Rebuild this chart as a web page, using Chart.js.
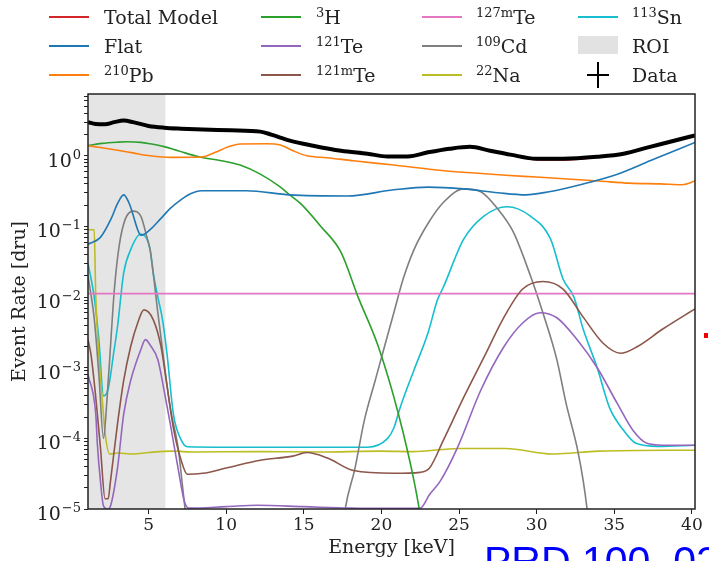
<!DOCTYPE html>
<html>
<head>
<meta charset="utf-8">
<script src="https://cdn.jsdelivr.net/npm/chart.js@4.4.1/dist/chart.umd.min.js"></script>
<style>
  html, body { margin: 0; padding: 0; background: #fff; }
  body { width: 709px; height: 561px; overflow: hidden; position: relative; }
  #c { position: absolute; left: 0; top: 0; }
  .lg { position: absolute; font-family: "DejaVu Serif", serif; font-size: 19px; color: #222; line-height: 22px; white-space: nowrap; }
  .lg sup { font-size: 13px; vertical-align: 7px; line-height: 0; }
  .ln { position: absolute; height: 2px; width: 40px; }
  #cite { position: absolute; left: 484px; top: 538px; font-family: "Liberation Sans", Arial, sans-serif; font-size: 41px; color: #0000ff; white-space: nowrap; line-height: 46px; }
</style>
</head>
<body>
<canvas id="c" width="709" height="561"></canvas>
<div id="legend"></div>
<div id="cite">PRD 100, 022002 (2019)</div>
<div style="position:absolute;left:704px;top:333px;width:4px;height:5px;background:#e00;"></div>
<script>
// ---- axis ticks ----
const energyTicks = [5, 10, 15, 20, 25, 30, 35, 40];
const decadeTicks = [1e-5, 1e-4, 1e-3, 1e-2, 1e-1, 1];
const decadeExponents = ['\u22125', '\u22124', '\u22123', '\u22122', '\u22121', '0'];

// ---- series values: [energy keV, rate dru] ----
const totalModel = [[1.1,3.0],[1.6,2.8],[2.2,2.8],[2.8,3.0],[3.4,3.15],[4,3.0],[5,2.65],[6,2.5],[7.1,2.42],[8.5,2.35],[10.3,2.3],[12.2,2.2],[12.9,2.0],[14.1,1.64],[15.6,1.39],[17.4,1.18],[19.1,1.07],[20.4,0.97],[21.7,0.97],[23,1.12],[24.4,1.26],[25.7,1.34],[27,1.18],[28.3,1.03],[30,0.89],[31.7,0.88],[33.9,0.96],[35.6,1.07],[37.3,1.34],[38.6,1.58],[40.2,1.95]];
const dataPts    = [[1.1,3.0],[1.6,2.82],[2.2,2.8],[2.8,3.0],[3.4,3.15],[4,3.0],[5,2.65],[6,2.5],[7.1,2.42],[8.5,2.35],[10.3,2.3],[12.2,2.2],[12.9,2.0],[14.1,1.64],[15.6,1.39],[17.4,1.18],[19.1,1.07],[20.4,0.98],[21.7,0.98],[23,1.12],[24.4,1.26],[25.7,1.34],[27,1.18],[28.3,1.04],[30,0.91],[31.7,0.91],[33.9,0.97],[35.6,1.07],[37.3,1.34],[38.6,1.58],[40.2,1.95]];
const flat   = [[1.1,0.056],[1.9,0.07],[2.6,0.13],[3.0,0.21],[3.4,0.28],[3.8,0.2],[4.3,0.09],[4.5,0.075],[5.1,0.09],[5.8,0.13],[6.4,0.18],[7.1,0.24],[7.7,0.29],[8.4,0.32],[11.3,0.32],[14.1,0.28],[17.8,0.27],[20.8,0.33],[23,0.36],[25.3,0.34],[27.5,0.3],[29.3,0.28],[30.8,0.31],[33,0.4],[35.2,0.55],[37.3,0.85],[40.2,1.55]];
const pb210  = [[1.1,1.39],[2,1.3],[3,1.2],[4,1.1],[5.1,1.0],[6.5,0.95],[8.4,0.96],[9.3,1.12],[10.1,1.33],[10.9,1.47],[12.6,1.48],[13.5,1.42],[14.3,1.18],[15.2,1.0],[16.5,0.94],[18.2,0.85],[20.8,0.74],[23.9,0.62],[26,0.57],[28,0.53],[30,0.5],[32,0.47],[34,0.44],[36,0.41],[38,0.4],[39.4,0.39],[40.2,0.44]];
const h3     = [[1.1,1.4],[2,1.5],[3,1.56],[3.6,1.58],[4.5,1.55],[5.1,1.48],[6,1.35],[6.9,1.18],[8.3,0.96],[9.6,0.86],[10.9,0.74],[12.2,0.55],[13.5,0.36],[14.1,0.28],[14.8,0.21],[16.1,0.1],[17.4,0.043],[18.5,0.01],[19.8,0.002],[21.1,2.2e-4],[22.1,2.5e-5],[22.5,8e-6],[23,1e-6]];
const te121  = [[1.1,8e-4],[1.6,2.2e-4],[1.7,8.5e-5],[1.9,2.5e-5],[2.1,1.1e-5],[2.4,1e-5],[2.55,1.1e-5],[3.0,3.8e-5],[3.4,2.2e-4],[3.85,6.6e-4],[4.5,1.8e-3],[4.8,2.5e-3],[5.1,2.1e-3],[5.6,1.3e-3],[6.0,4.8e-4],[6.4,1.6e-4],[6.9,3.8e-5],[7.3,1.3e-5],[7.6,1.03e-5],[10,1.08e-5],[12,1.13e-5],[15,1.08e-5],[18,1.03e-5],[21,1.02e-5],[22.5,1.03e-5],[23.1,1.6e-5],[23.8,2.5e-5],[24.9,7.4e-5],[26.4,4.8e-4],[27.9,2e-3],[29.1,4.3e-3],[30.2,6e-3],[31.3,5.1e-3],[32.6,2.5e-3],[33.9,1e-3],[35.2,3.1e-4],[36.2,1.3e-4],[37.1,8.5e-5],[38.1,8e-5],[40.2,8e-5]];
const te121m = [[1.1,2.5e-3],[1.3,1.5e-3],[1.6,3.8e-4],[1.9,7.5e-5],[2.2,1.4e-5],[2.4,1.4e-5],[2.55,2.5e-5],[3.0,1.6e-4],[3.4,6.6e-4],[3.85,2e-3],[4.3,4.3e-3],[4.7,6.6e-3],[5.3,4.8e-3],[5.8,2e-3],[6.2,5.3e-4],[6.6,1.4e-4],[7.1,4.9e-5],[7.5,3.1e-5],[8.5,3.2e-5],[10,3.8e-5],[12.2,4.9e-5],[14.3,5.6e-5],[15.2,6.3e-5],[16.5,5.3e-5],[18.2,3.5e-5],[20.8,3.2e-5],[22.5,3.3e-5],[23.1,3.8e-5],[24,9.5e-5],[25.3,3.8e-4],[26.6,1.4e-3],[27.9,5.2e-3],[29.1,0.013],[30.4,0.0166],[31.7,0.013],[33,5.2e-3],[34.3,2.2e-3],[35.4,1.6e-3],[36.5,2e-3],[38.1,3.5e-3],[40.2,6.8e-3]];
const te127m = [[1.1,0.0112],[40.2,0.0112]];
const cd109  = [[1.1,0.02],[1.5,5e-3],[1.8,8e-4],[2.1,1e-4],[2.3,3e-4],[2.6,3e-3],[2.8,0.013],[3.1,0.052],[3.5,0.127],[4.0,0.165],[4.5,0.14],[4.9,0.07],[5.1,0.047],[5.6,6e-3],[6.0,1.2e-3],[6.4,2.7e-4],[6.9,7.5e-5],[7.2,2e-5],[7.4,8e-6],[7.8,1e-6],[17.2,1e-6],[17.6,8e-6],[18.3,3.8e-5],[18.9,1.8e-4],[19.6,6.6e-4],[20.2,2e-3],[20.8,6e-3],[21.4,0.018],[22.1,0.047],[23,0.11],[24,0.22],[25.3,0.34],[26.4,0.31],[27.5,0.176],[28.5,0.083],[29.6,0.02],[30.4,6e-3],[31.3,1.3e-3],[31.9,3.1e-4],[32.6,7.5e-5],[33,2.5e-5],[33.3,8e-6],[33.7,1e-6]];
const na22   = [[1.1,0.09],[1.5,0.09],[1.6,0.01],[1.8,1.5e-3],[2.0,4e-4],[2.2,1.2e-4],[2.5,6e-5],[3,6.2e-5],[4,6e-5],[5,6.3e-5],[6.5,6.6e-5],[8,6.4e-5],[12,6.5e-5],[16,6.4e-5],[20,6.6e-5],[22,6.5e-5],[25,7.2e-5],[28,7.2e-5],[31,6e-5],[34,6.6e-5],[40.2,6.8e-5]];
const sn113  = [[1.1,0.03],[1.5,0.01],[1.8,2.5e-3],[2.1,4e-4],[2.4,5e-4],[2.75,1.6e-3],[3.0,3.8e-3],[3.4,0.022],[3.85,0.047],[4.5,0.078],[5.1,0.047],[5.3,0.022],[5.6,0.01],[5.9,4.8e-3],[6.2,1.5e-3],[6.6,2.2e-4],[7.1,9.5e-5],[7.5,7.6e-5],[10,7.5e-5],[15,7.5e-5],[19.1,7.5e-5],[20.4,1e-4],[20.8,1.4e-4],[21.2,2.7e-4],[22.1,9.3e-4],[23,3.1e-3],[23.6,9e-3],[24,0.014],[25.3,0.066],[26.6,0.14],[28.1,0.19],[29.6,0.14],[30.9,0.066],[31.7,0.018],[32.4,0.01],[33,3.5e-3],[33.9,1e-3],[34.7,2.7e-4],[35.6,1.3e-4],[36.4,8.5e-5],[37.8,7.7e-5],[40.2,8e-5]];
const roi    = [[1.1, 7.5], [6.1, 7.5]];

const xMin = 1.1, xMax = 40.2, yMin = 1e-5, yMax = 7.5;
const FONT = '"DejaVu Serif", serif';

const toXY = arr => arr.map(p => ({x: p[0], y: p[1]}));
function line(label, arr, color, extra) {
  return Object.assign({label, data: toXY(arr), borderColor: color, backgroundColor: color,
    borderWidth: 1.6, pointRadius: 0, fill: false, cubicInterpolationMode: 'monotone', order: 2}, extra || {});
}

const datasets = [
  line('Data', dataPts, '#000000', {borderWidth: 4, order: 0}),
  line('Total Model', totalModel, '#d62728', {borderWidth: 2, order: 1}),
  line('Flat', flat, '#1f77b4'),
  line('210Pb', pb210, '#ff7f0e'),
  line('3H', h3, '#2ca02c'),
  line('121Te', te121, '#9467bd'),
  line('121mTe', te121m, '#8c564b'),
  line('127mTe', te127m, '#e377c2'),
  line('109Cd', cd109, '#7f7f7f'),
  line('22Na', na22, '#bcbd22'),
  line('113Sn', sn113, '#17becf'),
  line('ROI', roi, 'rgba(0,0,0,0)', {fill: 'start', backgroundColor: '#e5e5e5', borderWidth: 0, order: 10})
];

const frame = {
  id: 'frame',
  afterDatasetsDraw(chart) {
    const {ctx, chartArea: a} = chart;
    ctx.save();
    ctx.strokeStyle = '#222';
    ctx.lineWidth = 1.5;
    ctx.strokeRect(a.left, a.top, a.right - a.left, a.bottom - a.top);
    // y tick labels: "10" with a raised exponent
    const ys = chart.scales.y;
    ctx.fillStyle = '#222';
    ctx.textBaseline = 'alphabetic';
    decadeTicks.forEach((d, i) => {
      const py = ys.getPixelForValue(d);
      const exp = decadeExponents[i];
      ctx.font = '13px ' + FONT;
      const ew = ctx.measureText(exp).width;
      const right = a.left - 7;
      ctx.textAlign = 'left';
      ctx.fillText(exp, right - ew, py + 3);
      ctx.font = '19px ' + FONT;
      ctx.textAlign = 'right';
      ctx.fillText('10', right - ew - 1, py + 11);
    });
    ctx.restore();
  }
};

new Chart(document.getElementById('c'), {
  type: 'line',
  data: {datasets},
  options: {
    animation: false, responsive: false, maintainAspectRatio: false,
    layout: {padding: {top: 94, right: 14, left: 0, bottom: 0}},
    plugins: {legend: {display: false}, tooltip: {enabled: false}},
    scales: {
      x: {
        type: 'linear', min: xMin, max: xMax,
        afterBuildTicks: s => { s.ticks = energyTicks.map(v => ({value: v})); },
        afterFit: s => { s.height = 52; },
        ticks: {font: {family: FONT, size: 17}, color: '#222', maxRotation: 0, autoSkip: false, padding: 1,
          callback: v => String(v)},
        grid: {drawOnChartArea: false, tickLength: 5, color: '#222'},
        border: {display: false},
        title: {display: true, text: 'Energy [keV]', font: {family: FONT, size: 19}, color: '#222', padding: {top: 0, bottom: 2}}
      },
      y: {
        type: 'logarithmic', min: yMin, max: yMax,
        afterBuildTicks: s => {
          const t = [];
          decadeTicks.forEach(d => { for (let m = 1; m <= 9; m++) { const v = m * d; if (v <= yMax * 1.0001) t.push({value: v}); } });
          s.ticks = t;
        },
        afterFit: s => { s.width = 88; },
        ticks: {font: {family: FONT, size: 15}, color: '#222', autoSkip: false, padding: 3, callback: () => ''},
        grid: {drawOnChartArea: false, tickLength: 4, color: '#222'},
        border: {display: false},
        title: {display: true, text: 'Event Rate [dru]', font: {family: FONT, size: 19}, color: '#222', padding: {top: 9, bottom: 0}}
      }
    }
  },
  plugins: [frame]
});

// ---- HTML legend (4 columns x 3 rows) ----
const legendItems = [
  {html: 'Total Model', color: '#d62728', col: 0, row: 0},
  {html: '<sup>3</sup>H', color: '#2ca02c', col: 1, row: 0},
  {html: '<sup>127m</sup>Te', color: '#e377c2', col: 2, row: 0},
  {html: '<sup>113</sup>Sn', color: '#17becf', col: 3, row: 0},
  {html: 'Flat', color: '#1f77b4', col: 0, row: 1},
  {html: '<sup>121</sup>Te', color: '#9467bd', col: 1, row: 1},
  {html: '<sup>109</sup>Cd', color: '#7f7f7f', col: 2, row: 1},
  {html: 'ROI', color: 'roi', col: 3, row: 1},
  {html: '<sup>210</sup>Pb', color: '#ff7f0e', col: 0, row: 2},
  {html: '<sup>121m</sup>Te', color: '#8c564b', col: 1, row: 2},
  {html: '<sup>22</sup>Na', color: '#bcbd22', col: 2, row: 2},
  {html: 'Data', color: 'data', col: 3, row: 2}
];
const colLine = [49, 261, 422, 578];
const colText = [104, 316, 476, 632];
const rowY = [16, 45, 74];
const lg = document.getElementById('legend');
legendItems.forEach(it => {
  const y = rowY[it.row], lx = colLine[it.col];
  if (it.color === 'roi') {
    const d = document.createElement('div');
    d.style.cssText = `position:absolute;left:${lx}px;top:${y-9}px;width:40px;height:18px;background:#e2e2e2;`;
    lg.appendChild(d);
  } else if (it.color === 'data') {
    const h = document.createElement('div');
    h.style.cssText = `position:absolute;left:${lx+9}px;top:${y}px;width:22px;height:2px;background:#000;`;
    const v = document.createElement('div');
    v.style.cssText = `position:absolute;left:${lx+19}px;top:${y-12}px;width:2px;height:26px;background:#000;`;
    lg.appendChild(h); lg.appendChild(v);
  } else {
    const d = document.createElement('div');
    d.className = 'ln';
    d.style.cssText = `left:${lx}px;top:${y}px;background:${it.color};`;
    lg.appendChild(d);
  }
  const t = document.createElement('div');
  t.className = 'lg';
  t.style.left = colText[it.col] + 'px';
  t.style.top = (y - 10) + 'px';
  t.innerHTML = it.html;
  lg.appendChild(t);
});
</script>
</body>
</html>
